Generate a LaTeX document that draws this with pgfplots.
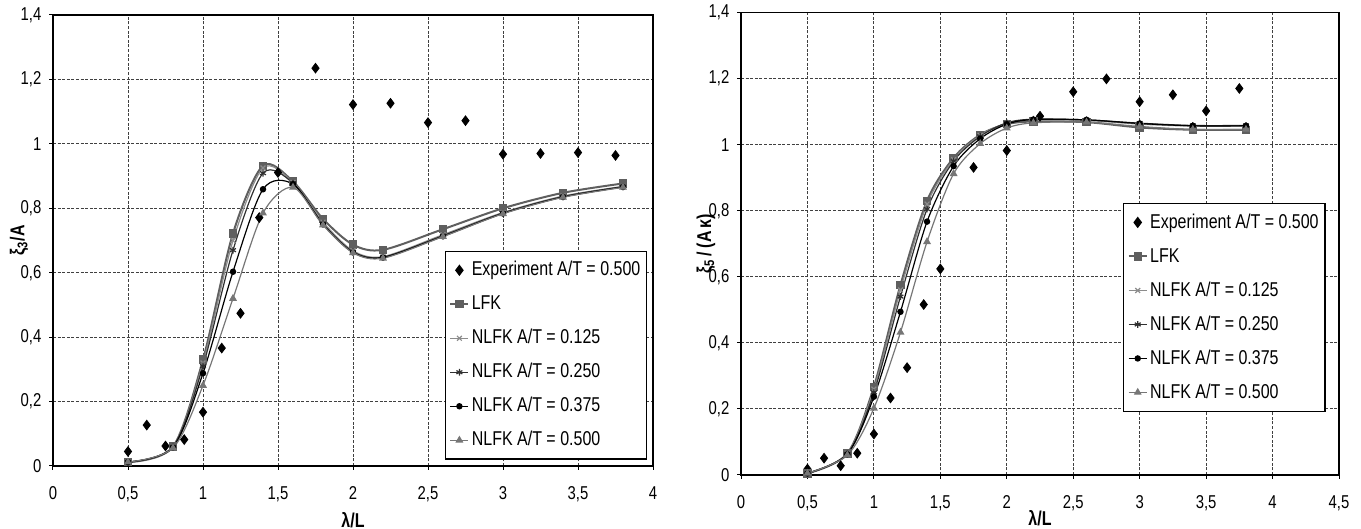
\documentclass[border=0pt]{standalone}
\usepackage{fontspec}
\setmainfont{Liberation Sans}[FakeStretch=0.8]
\usepackage{pgfplots}
\pgfplotsset{compat=1.18}

\definecolor{cLFK}{HTML}{5F5F5F}
\definecolor{cA}{HTML}{8C8C8C}
\definecolor{cB}{HTML}{303030}
\definecolor{cC}{HTML}{000000}
\definecolor{cD}{HTML}{767676}

\pgfplotsset{
  linelegend/.style={legend image code/.code={\draw[mark repeat=2,mark phase=2,##1] plot coordinates {(0pt,0pt) (4.5pt,0pt) (9pt,0pt)};}},
  marklegend/.style={legend image code/.code={\draw[##1] plot coordinates {(4.5pt,0pt)};}},
  common/.style={
    scale only axis,
    clip=false,
    ymin=0, ymax=1.4,
    ytick={0,0.2,0.4,0.6,0.8,1.0,1.2,1.4},
    yticklabels={0,{0,2},{0,4},{0,6},{0,8},1,{1,2},{1,4}},
    grid=major,
    major grid style={black!75, line width=0.5pt, dash pattern=on 1.5pt off 0.8pt},
    axis line style={black, line width=0.6pt},
    tick align=outside,
    tick pos=left,
    major tick length=1.8pt,
    tick style={black, line width=0.5pt},
    ticklabel style={font=\fontsize{9.3}{10}\selectfont},
    xticklabel style={yshift=-5pt},
    yticklabel style={xshift=-0.5pt},
    every axis x label/.style={at={(axis description cs:0.5,0)}, anchor=center, font=\bfseries\fontsize{10}{11}\selectfont},
    every axis y label/.style={at={(axis description cs:0,0.5)}, anchor=center, rotate=90, font=\bfseries\fontsize{10}{11}\selectfont},
    legend cell align=left,
    legend style={draw=black, line width=0.6pt, fill=white, anchor=north west,
      inner xsep=2pt, inner ysep=3pt, row sep=4.2pt,
      font=\fontsize{10}{12}\selectfont,
      nodes={inner sep=1.2pt, text height=8pt, text depth=2.4pt}},
  },
  exper/.style={only marks, mark=diamond*, mark size=2.4pt, black, marklegend},
  slfk/.style={smooth, cLFK, line width=1pt, mark=square*, mark size=1.6pt, mark options={solid}, linelegend},
  sa/.style={smooth, cA, line width=0.6pt, mark=x, mark size=1.7pt, mark options={solid}, linelegend},
  sb/.style={smooth, cB, line width=0.6pt, mark=asterisk, mark size=1.7pt, mark options={solid}, linelegend},
  sc/.style={smooth, cC, line width=0.6pt, mark=*, mark size=1.3pt, mark options={solid}, linelegend},
  sd/.style={smooth, cD, line width=0.6pt, mark=triangle*, mark size=1.7pt, mark options={solid}, linelegend},
}

\begin{document}
\begin{tikzpicture}
\useasboundingbox (0,0) rectangle (680.5pt,264.5pt);

% ---------- Left: heave ----------
\begin{axis}[common,
  at={(26.5pt,31.5pt)}, anchor=south west,
  width=300pt, height=225.5pt,
  xmin=0, xmax=4,
  xtick={0,0.5,1,1.5,2,2.5,3,3.5,4},
  xticklabels={0,{0,5},1,{1,5},2,{2,5},3,{3,5},4},
  xlabel={λ/L},
  ylabel={ξ\textsubscript{3}/A},
  xlabel style={yshift=-27pt},
  ylabel style={yshift=17pt},
  legend style={at={(0.653,0.477)}},
]
\addplot[exper] coordinates {(0.5,0.045)(0.625,0.127)(0.75,0.062)(0.875,0.082)(1.0,0.167)(1.125,0.366)(1.25,0.474)(1.375,0.771)(1.5,0.911)(1.75,1.235)(2.0,1.122)(2.25,1.126)(2.5,1.066)(2.75,1.072)(3.0,0.968)(3.25,0.970)(3.5,0.973)(3.75,0.964)};
\addlegendentry{Experiment A/T = 0.500}
\addplot[slfk] coordinates {(0.5,0.012)(0.8,0.06)(1.0,0.33)(1.2,0.722)(1.4,0.932)(1.6,0.883)(1.8,0.767)(2.0,0.687)(2.2,0.671)(2.6,0.735)(3.0,0.80)(3.4,0.848)(3.8,0.877)};
\addlegendentry{LFK}
\addplot[sa] coordinates {(0.5,0.012)(0.8,0.06)(1.0,0.32)(1.2,0.70)(1.4,0.925)(1.6,0.88)(1.8,0.757)(2.0,0.668)(2.2,0.650)(2.6,0.718)(3.0,0.787)(3.4,0.838)(3.8,0.868)};
\addlegendentry{NLFK A/T = 0.125}
\addplot[sb] coordinates {(0.5,0.012)(0.8,0.06)(1.0,0.31)(1.2,0.67)(1.4,0.909)(1.6,0.878)(1.8,0.752)(2.0,0.665)(2.2,0.648)(2.6,0.715)(3.0,0.785)(3.4,0.836)(3.8,0.867)};
\addlegendentry{NLFK A/T = 0.250}
\addplot[sc] coordinates {(0.5,0.012)(0.8,0.058)(1.0,0.288)(1.2,0.603)(1.4,0.859)(1.6,0.875)(1.8,0.75)(2.0,0.663)(2.2,0.647)(2.6,0.713)(3.0,0.784)(3.4,0.835)(3.8,0.866)};
\addlegendentry{NLFK A/T = 0.375}
\addplot[sd] coordinates {(0.5,0.012)(0.8,0.056)(1.0,0.25)(1.2,0.52)(1.4,0.785)(1.6,0.865)(1.8,0.748)(2.0,0.662)(2.2,0.645)(2.6,0.712)(3.0,0.783)(3.4,0.834)(3.8,0.865)};
\addlegendentry{NLFK A/T = 0.500}
\draw[black, line width=1pt] (rel axis cs:0,0) -- (rel axis cs:1,0);
\draw[black, line width=1pt] (rel axis cs:0,0) -- (rel axis cs:0,1);
\end{axis}

% ---------- Right: pitch ----------
\begin{axis}[common,
  at={(370.5pt,27pt)}, anchor=south west,
  width=299pt, height=231.25pt,
  xmin=0, xmax=4.5,
  xtick={0,0.5,1,1.5,2,2.5,3,3.5,4,4.5},
  xticklabels={0,{0,5},1,{1,5},2,{2,5},3,{3,5},4,{4,5}},
  xlabel={λ/L},
  ylabel={ξ\textsubscript{5}\,/\,(A\,κ)},
  xlabel style={yshift=-21.5pt},
  ylabel style={yshift=17.5pt},
  legend style={at={(0.639,0.588)}},
]
\addplot[exper] coordinates {(0.5,0.018)(0.625,0.051)(0.75,0.028)(0.875,0.066)(1.0,0.124)(1.125,0.233)(1.25,0.325)(1.375,0.516)(1.5,0.624)(1.75,0.931)(2.0,0.982)(2.25,1.086)(2.5,1.16)(2.75,1.199)(3.0,1.13)(3.25,1.151)(3.5,1.102)(3.75,1.17)};
\addlegendentry{Experiment A/T = 0.500}
\addplot[slfk] coordinates {(0.5,0.005)(0.8,0.065)(1.0,0.267)(1.2,0.575)(1.4,0.83)(1.6,0.96)(1.8,1.03)(2.0,1.062)(2.2,1.07)(2.6,1.068)(3.0,1.052)(3.4,1.045)(3.8,1.045)};
\addlegendentry{LFK}
\addplot[sa] coordinates {(0.5,0.005)(0.8,0.065)(1.0,0.26)(1.2,0.56)(1.4,0.82)(1.6,0.955)(1.8,1.028)(2.0,1.065)(2.2,1.075)(2.6,1.073)(3.0,1.062)(3.4,1.056)(3.8,1.056)};
\addlegendentry{NLFK A/T = 0.125}
\addplot[sb] coordinates {(0.5,0.005)(0.8,0.064)(1.0,0.25)(1.2,0.54)(1.4,0.805)(1.6,0.95)(1.8,1.025)(2.0,1.066)(2.2,1.077)(2.6,1.075)(3.0,1.065)(3.4,1.058)(3.8,1.058)};
\addlegendentry{NLFK A/T = 0.250}
\addplot[sc] coordinates {(0.5,0.005)(0.8,0.063)(1.0,0.237)(1.2,0.494)(1.4,0.767)(1.6,0.935)(1.8,1.018)(2.0,1.062)(2.2,1.076)(2.6,1.075)(3.0,1.064)(3.4,1.057)(3.8,1.057)};
\addlegendentry{NLFK A/T = 0.375}
\addplot[sd] coordinates {(0.5,0.005)(0.8,0.06)(1.0,0.202)(1.2,0.432)(1.4,0.706)(1.6,0.912)(1.8,1.003)(2.0,1.05)(2.2,1.066)(2.6,1.068)(3.0,1.055)(3.4,1.046)(3.8,1.046)};
\addlegendentry{NLFK A/T = 0.500}
\draw[black, line width=1pt] (rel axis cs:0,0) -- (rel axis cs:1,0);
\draw[black, line width=1pt] (rel axis cs:0,0) -- (rel axis cs:0,1);
\end{axis}
\end{tikzpicture}
\end{document}
